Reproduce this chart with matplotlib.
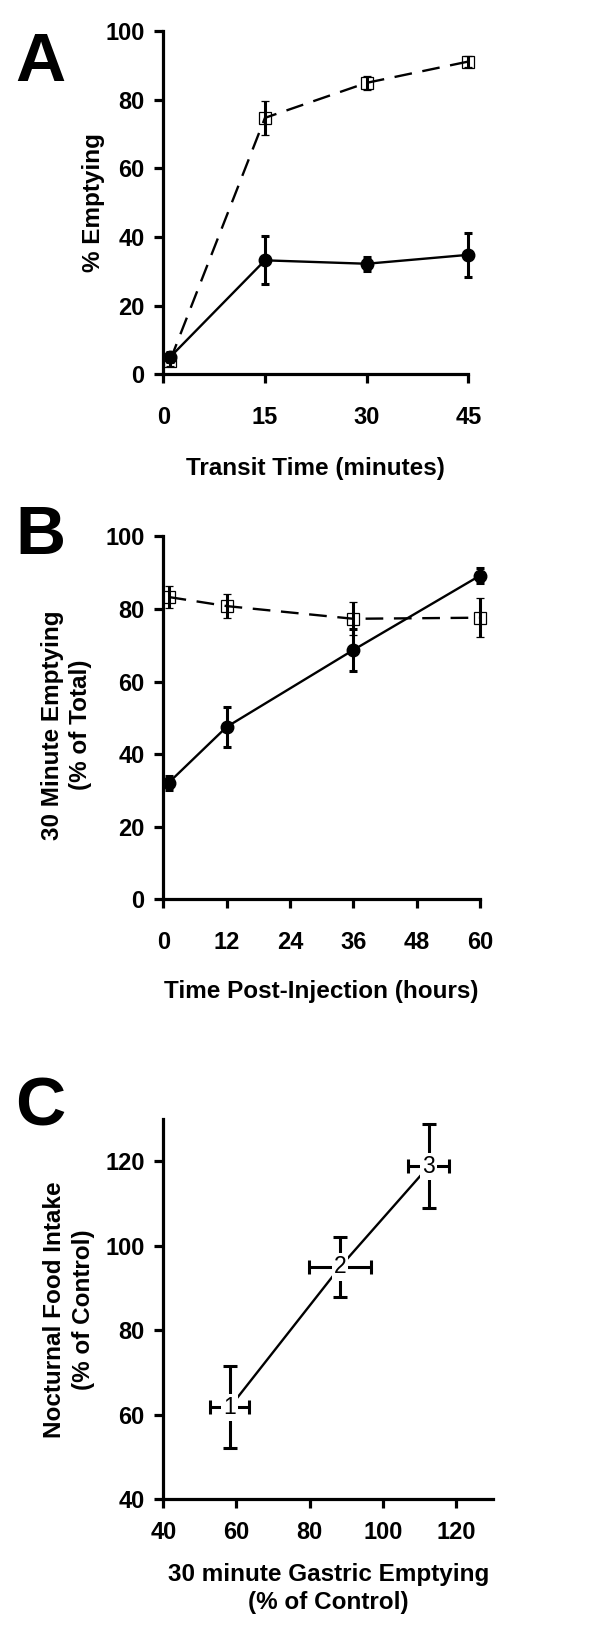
import matplotlib
matplotlib.use("Agg")
import matplotlib.pyplot as plt

plt.rcParams['font.family'] = ['Liberation Sans', 'DejaVu Sans']
plt.rcParams['font.weight'] = 'bold'

# ---- Panel A data ----
A_time = [1, 15, 30, 45]
A_filled = [5.0, 33.2, 32.2, 34.8]
A_filled_err = [1.5, 7.0, 2.0, 6.5]
A_open = [4.0, 74.7, 84.9, 91.1]
A_open_err = [1.5, 5.0, 2.0, 1.5]
A_xticks = [0, 15, 30, 45]
A_yticks = [0, 20, 40, 60, 80, 100]

# ---- Panel B data ----
B_time = [1, 12, 36, 60]
B_filled = [32.1, 47.5, 68.7, 89.2]
B_filled_err = [2.0, 5.5, 5.7, 2.0]
B_open = [83.3, 80.8, 77.3, 77.6]
B_open_err = [2.9, 3.3, 4.5, 5.3]
B_xticks = [0, 12, 24, 36, 48, 60]
B_yticks = [0, 20, 40, 60, 80, 100]

# ---- Panel C data ----
C_x = [58.2, 88.3, 112.6]
C_xerr = [5.3, 8.6, 5.6]
C_y = [61.8, 95.0, 118.9]
C_yerr = [9.7, 7.0, 10.0]
C_labels = ['1', '2', '3']
C_xticks = [40, 60, 80, 100, 120]
C_yticks = [40, 60, 80, 100, 120]

W, H = 600, 1650
fig = plt.figure(figsize=(W / 100, H / 100), dpi=100)

TICK_FS = 17
LABEL_FS = 17.5
LETTER_FS = 50
DASH = (0, (7.5, 4.5))


def style(ax, xpad=16.5):
    for s in ['top', 'right']:
        ax.spines[s].set_visible(False)
    for s in ['left', 'bottom']:
        ax.spines[s].set_linewidth(2.3)
    ax.tick_params(direction='out', length=6.5, width=2.3, labelsize=TICK_FS)
    ax.tick_params(axis='y', pad=7)
    ax.tick_params(axis='x', pad=xpad)


def pix_axes(left, right, top, bottom):
    return fig.add_axes([left / W, 1 - bottom / H, (right - left) / W, (bottom - top) / H])


def two_series(ax, t, filled, ferr, opened, oerr):
    ax.errorbar(t, opened, yerr=oerr, color='black', lw=1.7, ls=DASH,
                marker='s', ms=9, mfc='none', mec='black', mew=0.9,
                ecolor='black', elinewidth=2.2, capsize=3.1, capthick=2.2,
                clip_on=False, zorder=3)
    ax.errorbar(t, filled, yerr=ferr, color='black', lw=1.7, ls='-',
                marker='o', ms=9, mfc='black', mec='black',
                ecolor='black', elinewidth=2.2, capsize=3.1, capthick=2.2,
                clip_on=False, zorder=3)


# ================= Panel A =================
axA = pix_axes(163.3, 468.3, 31, 374.3)
two_series(axA, A_time, A_filled, A_filled_err, A_open, A_open_err)
axA.set_xlim(0, 45)
axA.set_ylim(0, 100)
axA.set_xticks(A_xticks)
axA.set_yticks(A_yticks)
style(axA)
axA.set_xlabel('Transit Time (minutes)', fontsize=LABEL_FS, fontweight='bold')
axA.set_ylabel('% Emptying', fontsize=LABEL_FS, fontweight='bold')
axA.xaxis.set_label_coords(0.5, -0.273)
axA.xaxis.label.set_verticalalignment('center')
axA.yaxis.set_label_coords(-0.2297, 0.5)
axA.yaxis.label.set_verticalalignment('center')

# ================= Panel B =================
axB = pix_axes(163.3, 480, 536.4, 899.3)
two_series(axB, B_time, B_filled, B_filled_err, B_open, B_open_err)
axB.set_xlim(0, 60)
axB.set_ylim(0, 100)
axB.set_xticks(B_xticks)
axB.set_yticks(B_yticks)
style(axB)
axB.set_xlabel('Time Post-Injection (hours)', fontsize=LABEL_FS, fontweight='bold')
axB.set_ylabel('30 Minute Emptying\n(% of Total)', fontsize=LABEL_FS, fontweight='bold',
               linespacing=1.27)
axB.xaxis.set_label_coords(0.5, -0.2527)
axB.xaxis.label.set_verticalalignment('center')
axB.yaxis.set_label_coords(-0.305, 0.48)
axB.yaxis.label.set_verticalalignment('center')

# ================= Panel C =================
axC = pix_axes(163.3, 492.6, 1119.2, 1499.2)
axC.plot(C_x, C_y, color='black', lw=1.7, zorder=1)
axC.errorbar(C_x, C_y, xerr=C_xerr, yerr=C_yerr, fmt='none', ecolor='black',
             elinewidth=2.2, capsize=5.0, capthick=2.2, zorder=2)
for x, y, t in zip(C_x, C_y, C_labels):
    axC.text(x, y, t, ha='center', va='center', fontsize=16.5, fontweight='normal',
             zorder=3, bbox=dict(facecolor='white', edgecolor='none', pad=1.5))
axC.set_xlim(40, 130)
axC.set_ylim(40, 130)
axC.set_xticks(C_xticks)
axC.set_yticks(C_yticks)
style(axC, xpad=9)
axC.set_xlabel('30 minute Gastric Emptying\n(% of Control)', fontsize=LABEL_FS,
               fontweight='bold', linespacing=1.3)
axC.set_ylabel('Nocturnal Food Intake\n(% of Control)', fontsize=LABEL_FS,
               fontweight='bold', linespacing=1.32)
axC.xaxis.set_label_coords(0.501, -0.235)
axC.xaxis.label.set_verticalalignment('center')
axC.yaxis.set_label_coords(-0.286, 0.5)
axC.yaxis.label.set_verticalalignment('center')

# ================= Panel letters =================
for letter, base in [('A', 81), ('B', 554), ('C', 1126)]:
    fig.text(15 / W, 1 - base / H, letter, fontsize=LETTER_FS, fontweight='bold',
             ha='left', va='baseline')

fig.savefig('out.png', dpi=100, facecolor='white')
